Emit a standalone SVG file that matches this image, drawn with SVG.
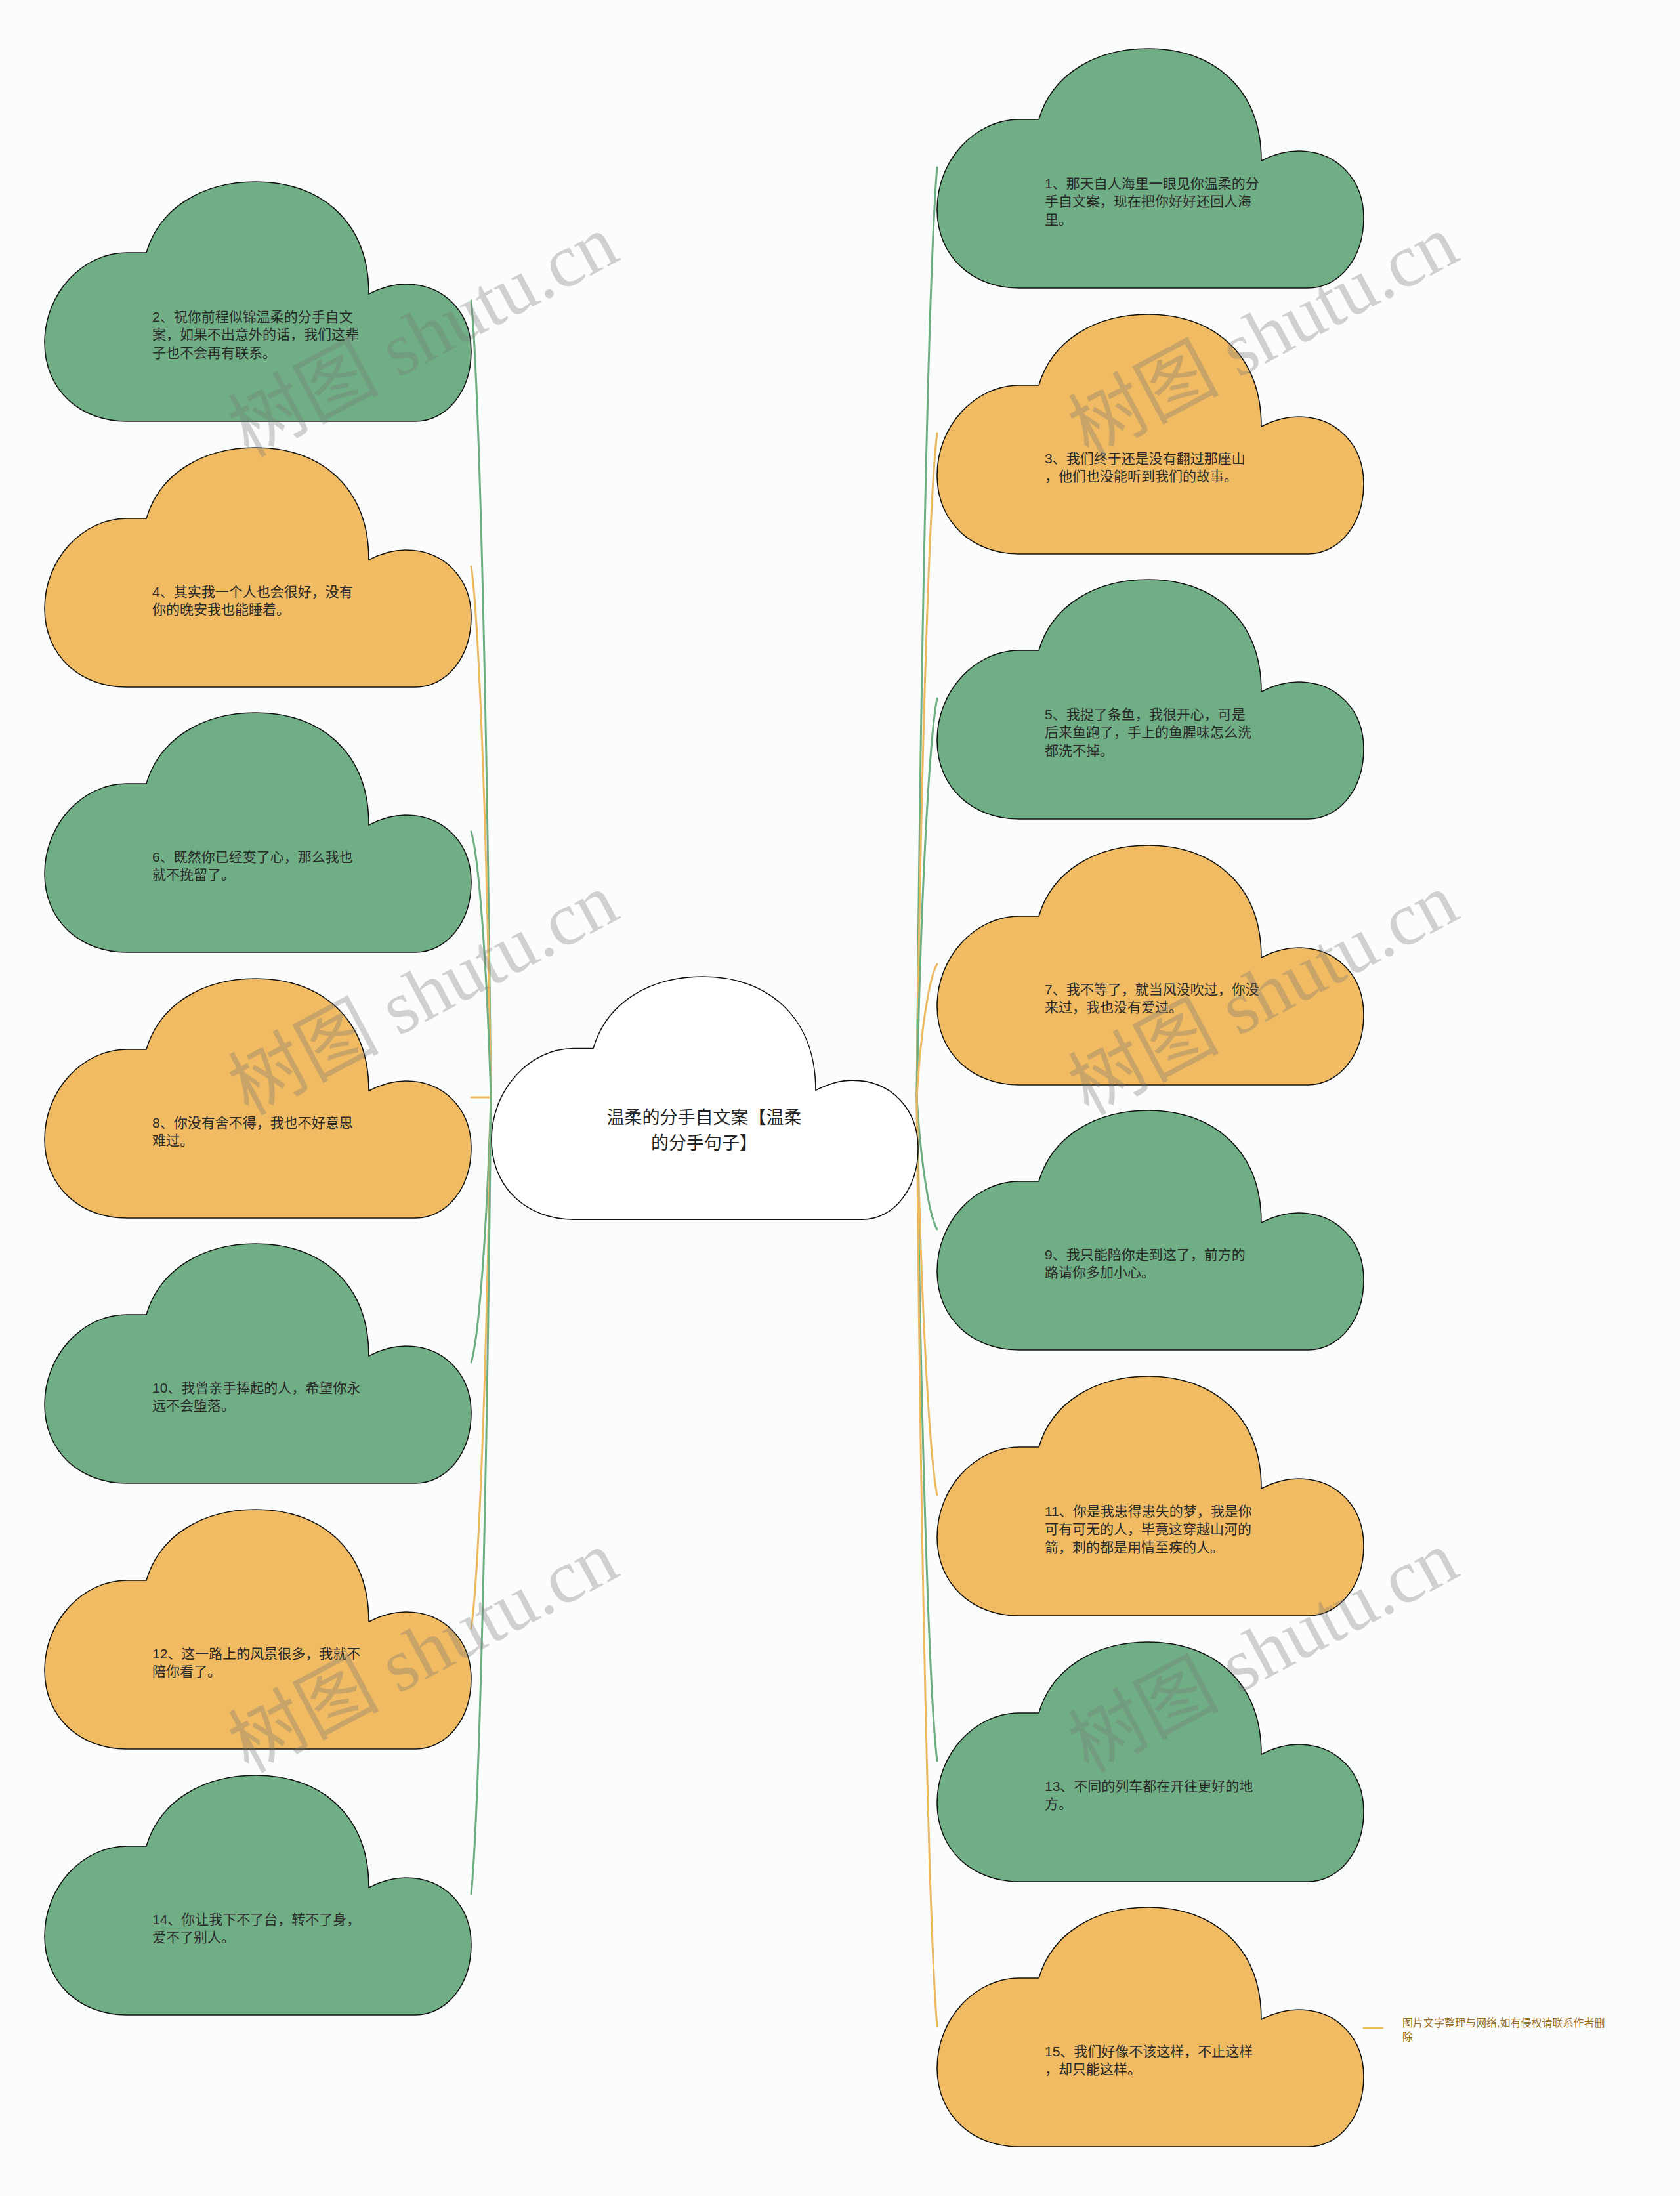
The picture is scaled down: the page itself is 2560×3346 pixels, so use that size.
<svg xmlns="http://www.w3.org/2000/svg" xmlns:xlink="http://www.w3.org/1999/xlink" width="2560" height="3346" viewBox="0 0 2560 3346">
<defs>
<style>
.cl{stroke:#111;stroke-width:1.6}
.g{fill:#70AF85}
.o{fill:#F0BB62}
.w{fill:#ffffff}
.t{font-family:"Liberation Sans","Noto Sans CJK SC",sans-serif;font-size:21px;fill:#2a2a2a}
.ct{font-family:"Liberation Sans","Noto Sans CJK SC",sans-serif;font-size:27px;fill:#222;text-anchor:middle}
.lg{fill:none;stroke:#6DAE83;stroke-width:3;stroke-linecap:round}
.lo{fill:none;stroke:#EDB95F;stroke-width:3;stroke-linecap:round}
.note{font-family:"Liberation Sans","Noto Sans CJK SC",sans-serif;font-size:16px;fill:#9C6C1E}
.wm{font-family:"Liberation Serif","Noto Sans CJK SC",serif;font-size:115px;fill:#777;fill-opacity:0.33;text-anchor:middle;dominant-baseline:central}
</style>
<path id="cloud" d="M155,108 C175,40 240,0 322,0 C420,0 494,60 494,171 C515,160 532,156 550,156 C610,156 650,200 650,258 C650,320 612,365 565,365 L125,365 C55,365 0,318 0,245 C0,170 58,108 125,108 L155,108 Z"/>
</defs>
<rect x="0" y="0" width="2560" height="3346" fill="#FBFDFD"/>

<g id="connectors">
<path class="lg" d="M748,1672 C742,1065 730,580 718,458"/>
<path class="lo" d="M748,1672 C742,1268 730,944 718,863"/>
<path class="lg" d="M748,1672 C742,1470 730,1308 718,1267"/>
<path class="lo" d="M748,1672 L718,1672"/>
<path class="lg" d="M748,1672 C742,1874 730,2036 718,2076"/>
<path class="lo" d="M748,1672 C742,2076 730,2400 718,2481"/>
<path class="lg" d="M748,1672 C742,2279 730,2765 718,2886"/>
<path class="lg" d="M1397,1672 C1403,964 1416,397 1428,255"/>
<path class="lo" d="M1397,1672 C1403,1166 1416,761 1428,660"/>
<path class="lg" d="M1397,1672 C1403,1368 1416,1125 1428,1064"/>
<path class="lo" d="M1397,1672 C1403,1570 1416,1489 1428,1469"/>
<path class="lg" d="M1397,1672 C1403,1772 1416,1853 1428,1873"/>
<path class="lo" d="M1397,1672 C1403,1975 1416,2217 1428,2278"/>
<path class="lg" d="M1397,1672 C1403,2178 1416,2582 1428,2683"/>
<path class="lo" d="M1397,1672 C1403,2380 1416,2946 1428,3087"/>
<path class="lo" d="M2078,3090 L2107,3090"/>
</g>

<g id="center">
<use xlink:href="#cloud" href="#cloud" class="cl w" transform="translate(749,1488) scale(1,1.014)"/>
<text class="ct" x="1073" y="1712">温柔的分手自文案【温柔</text>
<text class="ct" x="1073" y="1751">的分手句子】</text>
</g>

<g id="node-2">
<use href="#cloud" class="cl g" x="68" y="277"/>
<text class="t" x="232" y="490">2、祝你前程似锦温柔的分手自文</text>
<text class="t" x="232" y="517">案，如果不出意外的话，我们这辈</text>
<text class="t" x="232" y="545">子也不会再有联系。</text>
</g>
<g id="node-4">
<use href="#cloud" class="cl o" x="68" y="682"/>
<text class="t" x="232" y="909">4、其实我一个人也会很好，没有</text>
<text class="t" x="232" y="936">你的晚安我也能睡着。</text>
</g>
<g id="node-6">
<use href="#cloud" class="cl g" x="68" y="1086"/>
<text class="t" x="232" y="1313">6、既然你已经变了心，那么我也</text>
<text class="t" x="232" y="1340">就不挽留了。</text>
</g>
<g id="node-8">
<use href="#cloud" class="cl o" x="68" y="1491"/>
<text class="t" x="232" y="1718">8、你没有舍不得，我也不好意思</text>
<text class="t" x="232" y="1745">难过。</text>
</g>
<g id="node-10">
<use href="#cloud" class="cl g" x="68" y="1895"/>
<text class="t" x="232" y="2122">10、我曾亲手捧起的人，希望你永</text>
<text class="t" x="232" y="2149">远不会堕落。</text>
</g>
<g id="node-12">
<use href="#cloud" class="cl o" x="68" y="2300"/>
<text class="t" x="232" y="2527">12、这一路上的风景很多，我就不</text>
<text class="t" x="232" y="2554">陪你看了。</text>
</g>
<g id="node-14">
<use href="#cloud" class="cl g" x="68" y="2705"/>
<text class="t" x="232" y="2932">14、你让我下不了台，转不了身，</text>
<text class="t" x="232" y="2959">爱不了别人。</text>
</g>

<g id="node-1">
<use href="#cloud" class="cl g" x="1428" y="74"/>
<text class="t" x="1592" y="287">1、那天自人海里一眼见你温柔的分</text>
<text class="t" x="1592" y="314">手自文案，现在把你好好还回人海</text>
<text class="t" x="1592" y="342">里。</text>
</g>
<g id="node-3">
<use href="#cloud" class="cl o" x="1428" y="479"/>
<text class="t" x="1592" y="706">3、我们终于还是没有翻过那座山</text>
<text class="t" x="1592" y="733">，他们也没能听到我们的故事。</text>
</g>
<g id="node-5">
<use href="#cloud" class="cl g" x="1428" y="883"/>
<text class="t" x="1592" y="1096">5、我捉了条鱼，我很开心，可是</text>
<text class="t" x="1592" y="1123">后来鱼跑了，手上的鱼腥味怎么洗</text>
<text class="t" x="1592" y="1151">都洗不掉。</text>
</g>
<g id="node-7">
<use href="#cloud" class="cl o" x="1428" y="1288"/>
<text class="t" x="1592" y="1515">7、我不等了，就当风没吹过，你没</text>
<text class="t" x="1592" y="1542">来过，我也没有爱过。</text>
</g>
<g id="node-9">
<use href="#cloud" class="cl g" x="1428" y="1692"/>
<text class="t" x="1592" y="1919">9、我只能陪你走到这了，前方的</text>
<text class="t" x="1592" y="1946">路请你多加小心。</text>
</g>
<g id="node-11">
<use href="#cloud" class="cl o" x="1428" y="2097"/>
<text class="t" x="1592" y="2310">11、你是我患得患失的梦，我是你</text>
<text class="t" x="1592" y="2337">可有可无的人，毕竟这穿越山河的</text>
<text class="t" x="1592" y="2365">箭，刺的都是用情至疾的人。</text>
</g>
<g id="node-13">
<use href="#cloud" class="cl g" x="1428" y="2502"/>
<text class="t" x="1592" y="2729">13、不同的列车都在开往更好的地</text>
<text class="t" x="1592" y="2756">方。</text>
</g>
<g id="node-15">
<use href="#cloud" class="cl o" x="1428" y="2906"/>
<text class="t" x="1592" y="3133">15、我们好像不该这样，不止这样</text>
<text class="t" x="1592" y="3160">，却只能这样。</text>
</g>

<g id="note">
<text class="note" x="2137" y="3088">图片文字整理与网络,如有侵权请联系作者删</text>
<text class="note" x="2137" y="3109">除</text>
</g>

<g id="watermark">
<text class="wm" x="645" y="512" transform="rotate(-28 645 512)">树图 shutu.cn</text>
<text class="wm" x="645" y="1515" transform="rotate(-28 645 1515)">树图 shutu.cn</text>
<text class="wm" x="645" y="2517" transform="rotate(-28 645 2517)">树图 shutu.cn</text>
<text class="wm" x="1925" y="512" transform="rotate(-28 1925 512)">树图 shutu.cn</text>
<text class="wm" x="1925" y="1515" transform="rotate(-28 1925 1515)">树图 shutu.cn</text>
<text class="wm" x="1925" y="2517" transform="rotate(-28 1925 2517)">树图 shutu.cn</text>
</g>
</svg>
